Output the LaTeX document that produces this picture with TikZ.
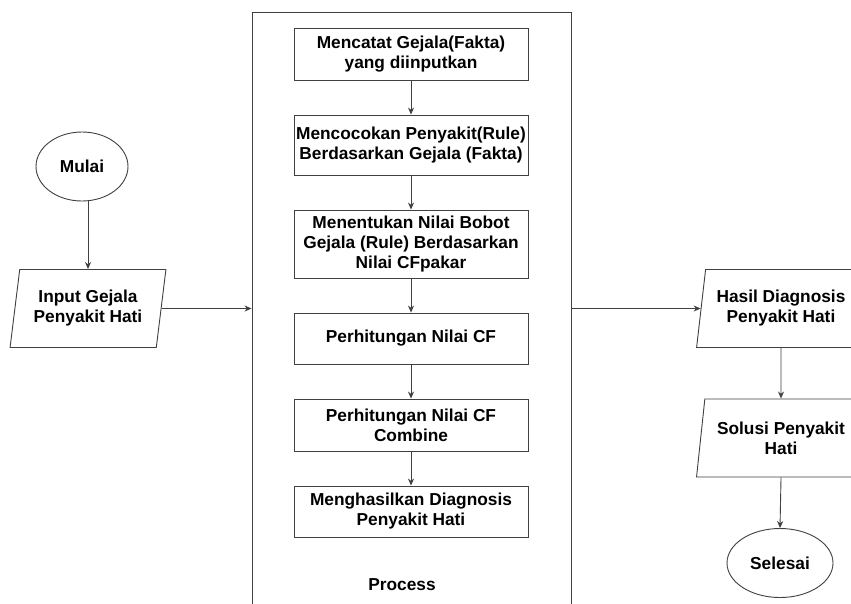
\documentclass[tikz,border=0pt]{standalone}
\usepackage{fontspec}
\setmainfont{Liberation Sans}
\usetikzlibrary{shapes.geometric,arrows.meta}
\begin{document}
\begin{tikzpicture}[x=1pt,y=-1pt,
  every node/.style={font=\bfseries\fontsize{17.3}{20}\selectfont, text=black, align=center, inner sep=0pt},
  line/.style={draw=black!75, line width=0.9pt},
  arr/.style={line, -{Stealth[length=7pt,width=6pt]}},
  proc/.style={line, rectangle, minimum width=234pt},
  io/.style={line, trapezium, trapezium left angle=78, trapezium right angle=102, trapezium stretches=true, minimum height=78pt},
  term/.style={line, ellipse, minimum height=69pt}
]
\useasboundingbox (0,0) rectangle (851,603);
\clip (0,0) rectangle (851,603);
\fill[white] (0,0) rectangle (851,603);

% container
\node[line, rectangle, minimum width=319pt, minimum height=608pt] (procbox) at (411.5,316) {};
\node (proclabel) at (402,585) {Process};

% left column
\node[term, minimum width=92pt] (mulai) at (82,166.5) {Mulai};
\node[io, minimum width=156pt] (input) at (88,308.5) {Input Gejala\\Penyakit Hati};

% process steps
\node[proc, minimum height=52pt] (p1) at (411,54) {Mencatat Gejala(Fakta)\\yang diinputkan};
\node[proc, minimum height=60pt] (p2) at (411,145) {Mencocokan Penyakit(Rule)\\Berdasarkan Gejala (Fakta)};
\node[proc, minimum height=68pt] (p3) at (411,244) {Menentukan Nilai Bobot\\Gejala (Rule) Berdasarkan\\Nilai CFpakar};
\node[proc, minimum height=51pt] (p4) at (411,338.5) {Perhitungan Nilai CF};
\node[proc, minimum height=52pt] (p5) at (411,425) {Perhitungan Nilai CF\\Combine};
\node[proc, minimum height=51pt] (p6) at (411,511.5) {Menghasilkan Diagnosis\\Penyakit Hati};

% right column
\node[io, minimum width=169pt] (hasil) at (781,308.5) {Hasil Diagnosis\\Penyakit Hati};
\node[io, minimum width=169pt] (solusi) at (781,438) {Solusi Penyakit\\Hati};
\node[term, minimum width=106pt] (selesai) at (780,563) {Selesai};

% connectors
\draw[arr] (mulai.south -| input.north) -- (input.north);
\draw[arr] (input.east) -- (input.east -| procbox.west);
\draw[arr] (p1) -- (p2);
\draw[arr] (p2) -- (p3);
\draw[arr] (p3) -- (p4);
\draw[arr] (p4) -- (p5);
\draw[arr] (p5) -- (p6);
\draw[arr] (procbox.east |- hasil.west) -- (hasil.west);
\draw[arr] (hasil.south) -- (solusi.north);
\draw[arr] (solusi.south) -- (selesai.north);
\end{tikzpicture}
\end{document}
